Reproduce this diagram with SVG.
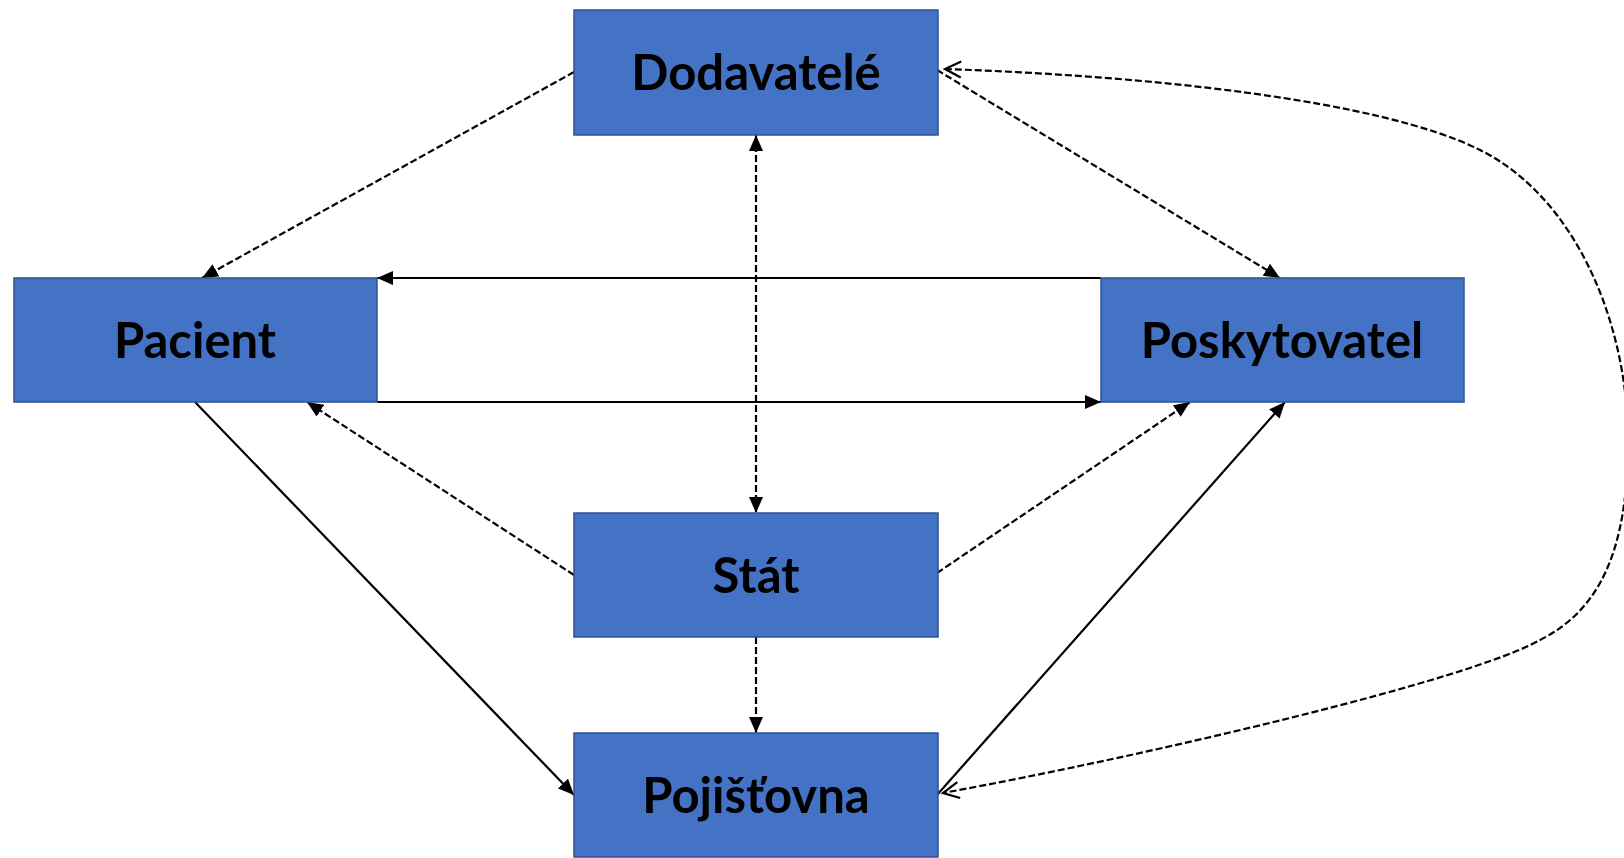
<svg xmlns="http://www.w3.org/2000/svg" width="1624" height="858" viewBox="0 0 1624 858">
  <style>
    .box { fill: #4472C4; stroke: #2F528F; stroke-width: 1.5; }
    .label { font-family: "Lato", "Open Sans", "Liberation Sans", sans-serif; font-weight: bold; font-size: 49px; fill: #000; text-anchor: middle; }
    .solid { fill: none; stroke: #000; stroke-width: 2.2; }
    .dash { fill: none; stroke: #000; stroke-width: 2.2; stroke-dasharray: 7 3; }
  </style>
  <defs>
    <marker id="tri" markerUnits="userSpaceOnUse" viewBox="0 0 16 14" refX="16" refY="7" markerWidth="16" markerHeight="14" orient="auto-start-reverse">
      <path d="M0,0 L16,7 L0,14 Z" fill="#000"/>
    </marker>
    <marker id="vee" markerUnits="userSpaceOnUse" viewBox="0 0 20 20" refX="18" refY="10" markerWidth="20" markerHeight="20" orient="auto-start-reverse">
      <path d="M2,2 L18,10 L2,18" fill="none" stroke="#000" stroke-width="2.2" stroke-dasharray="none"/>
    </marker>
  </defs>

  <!-- connectors -->
  <g id="connectors">
    <!-- Dodavatelé -> Pacient -->
    <line class="dash" x1="574" y1="72" x2="202" y2="278" marker-end="url(#tri)"/>
    <!-- Dodavatelé -> Poskytovatel -->
    <line class="dash" x1="937" y1="70" x2="1280" y2="278" marker-end="url(#tri)"/>
    <!-- Dodavatelé <-> Stát -->
    <line class="dash" x1="756" y1="135" x2="756" y2="513" marker-start="url(#tri)" marker-end="url(#tri)"/>
    <!-- Poskytovatel -> Pacient (top) -->
    <line class="solid" x1="1101" y1="278" x2="377" y2="278" marker-end="url(#tri)"/>
    <!-- Pacient -> Poskytovatel (bottom) -->
    <line class="solid" x1="377" y1="402" x2="1101" y2="402" marker-end="url(#tri)"/>
    <!-- Stát -> Pacient -->
    <line class="dash" x1="574" y1="575" x2="307" y2="402" marker-end="url(#tri)"/>
    <!-- Stát -> Poskytovatel -->
    <line class="dash" x1="937" y1="573" x2="1190" y2="402" marker-end="url(#tri)"/>
    <!-- Pacient -> Pojišťovna -->
    <line class="solid" x1="195" y1="402" x2="574" y2="795" marker-end="url(#tri)"/>
    <!-- Pojišťovna -> Poskytovatel -->
    <line class="solid" x1="937" y1="795" x2="1285" y2="402" marker-end="url(#tri)"/>
    <!-- Stát -> Pojišťovna -->
    <line class="dash" x1="756" y1="637" x2="756" y2="733" marker-end="url(#tri)"/>
    <!-- Dodavatelé <-> Pojišťovna (outer curve) -->
    <path class="dash" d="M945,69 C1150,76 1380,100 1480,150 C1580,200 1628,330 1628,440 C1628,550 1600,610 1540,640 C1470,680 1150,755 943,793" marker-start="url(#vee)" marker-end="url(#vee)"/>
  </g>

  <!-- nodes -->
  <g id="dodavatele">
    <rect class="box" x="574" y="10" width="364" height="125"/>
    <text class="label" x="756" y="90">Dodavatelé</text>
  </g>
  <g id="pacient">
    <rect class="box" x="14" y="278" width="363" height="124"/>
    <text class="label" x="195" y="358">Pacient</text>
  </g>
  <g id="poskytovatel">
    <rect class="box" x="1101" y="278" width="363" height="124"/>
    <text class="label" x="1282" y="358">Poskytovatel</text>
  </g>
  <g id="stat">
    <rect class="box" x="574" y="513" width="364" height="124"/>
    <text class="label" x="756" y="593">Stát</text>
  </g>
  <g id="pojistovna">
    <rect class="box" x="574" y="733" width="364" height="124"/>
    <text class="label" x="756" y="813">Pojišťovna</text>
  </g>
</svg>
